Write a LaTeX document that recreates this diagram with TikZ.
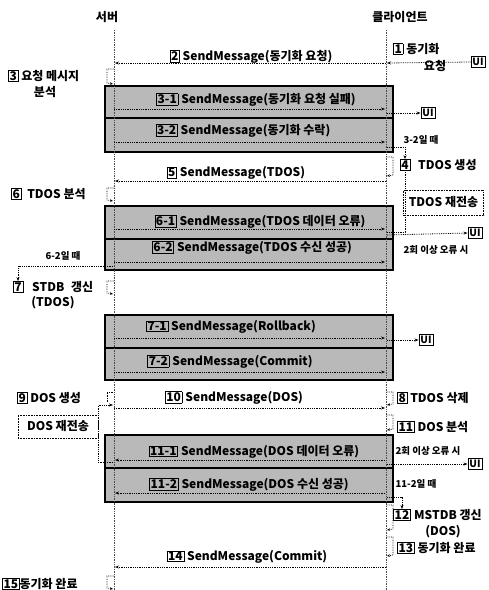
\documentclass[tikz,border=0pt]{standalone}
\usepackage{fontspec}
\setmainfont{Noto Sans CJK KR}
\usetikzlibrary{arrows.meta}
\newcommand\stepno[1]{{\setlength{\fboxsep}{0.8pt}\setlength{\fboxrule}{0.6pt}\fbox{#1}}\hspace{3pt}}
\tikzset{
 life/.style={densely dotted, line width=0.7pt, black!70},
 msg/.style={densely dotted, line width=0.8pt, -{Stealth[length=4pt,width=3pt]}},
 plain/.style={densely dotted, line width=0.8pt},
 lbl/.style={font=\fontsize{12}{14}\selectfont\bfseries, inner sep=1pt},
 sm/.style={font=\fontsize{9.5}{10}\selectfont\bfseries, inner sep=1pt},
 greybox/.style={fill=gray!55, draw=black, line width=1.6pt},
 act/.style={densely dotted, line width=0.7pt, -{Stealth[length=3pt,width=2.5pt]}},
 uibox/.style={draw, line width=0.8pt, font=\fontsize{10}{11}\selectfont\bfseries, inner sep=1.5pt},
 numbox/.style={draw, line width=0.6pt, inner sep=1.2pt, font=\fontsize{12}{14}\selectfont\bfseries},
 retrybox/.style={draw, densely dotted, line width=0.6pt, font=\fontsize{12}{14}\selectfont\bfseries, inner sep=0pt}
}
\begin{document}
\begin{tikzpicture}[x=1pt,y=-1pt]
\useasboundingbox (0,0) rectangle (489,590);
% titles and lifelines
\node[lbl] (srvT) at (107,17) {서버};
\node[lbl] (cliT) at (400,17) {클라이언트};
\coordinate (sTop) at (114,30); \coordinate (sBot) at (114,590);
\coordinate (cTop) at (386,30); \coordinate (cBot) at (386,590);
% grey boxes
\draw[greybox] (105,86) rectangle (393,152);
\draw[line width=1.6pt] (105,118) -- (393,118);
\draw[greybox] (105,206) rectangle (393,270);
\draw[line width=1.6pt] (105,239) -- (393,239);
\draw[greybox] (105,315) rectangle (393,380);
\draw[line width=1.6pt] (105,348) -- (393,348);
\draw[greybox] (105,435) rectangle (393,502);
\draw[line width=1.6pt] (105,468) -- (393,468);
\draw[life] (sTop) -- (sBot);
\draw[life] (cTop) -- (cBot);

% step 1
\node[uibox] (ui0) at (478,62) {UI};
\node[lbl, anchor=west] (t1) at (392,49) {\stepno{1}동기화};
\node[lbl] (t1b) at (435,66) {요청};
\coordinate (c1) at (387,63);
\draw[msg] (ui0.west) -- (c1);
% step 2
\coordinate (c2) at (386,63); \coordinate (s2) at (115,63);
\draw[msg] (c2) -- (s2);
\node[lbl] (t2) at (251,57) {\stepno{2}SendMessage(동기화 요청)};
% step 3
\node[lbl, anchor=west] (t3) at (7,76) {\stepno{3}요청 메시지};
\node[lbl] (t3b) at (45,92) {분석};
\draw[act] (114,69) -- (107,69) -- (107,83) -- (113,84);
% 3-1
\node[lbl] (t31) at (256,100) {\stepno{3-1}SendMessage(동기화 요청 실패)};
\coordinate (s31) at (114,109); \coordinate (c31) at (385,109);
\draw[msg] (s31) -- (c31);
\node[uibox] (ui1) at (428,113) {UI};
\coordinate (c31b) at (387,113);
\draw[msg] (c31b) -- (ui1.west);
% 3-2
\node[lbl] (t32) at (243,131) {\stepno{3-2}SendMessage(동기화 수락)};
\coordinate (s32) at (114,142); \coordinate (c32) at (385,142);
\draw[msg] (s32) -- (c32);
\node[sm] (w32) at (421,140) {3-2일 때};
\node[numbox] (n4) at (405,165) {4};
\node[lbl, anchor=west] (t4) at (417,165) {TDOS 생성};
\coordinate (c32b) at (387,147);
\draw[msg] (c32b) -- (n4.north |- c32b) -- (n4.north);
\draw[act] (386,157) -- (393,157) -- (393,175) -- (387,176);
% step 5
\coordinate (c5) at (386,181); \coordinate (s5) at (115,181);
\draw[msg] (c5) -- (s5);
\node[lbl] (t5) at (236,173) {\stepno{5}SendMessage(TDOS)};
% TDOS resend
\node[retrybox, minimum width=80pt, minimum height=25pt] (rT) at (443.5,202.5) {TDOS 재전송};
% step 6
\node[lbl, anchor=west] (t6) at (10,194) {\stepno{6}\hspace{3pt}TDOS 분석};
\draw[act] (114,188) -- (107,188) -- (107,200) -- (113,201);
% 6-1
\node[lbl] (t61) at (260,222) {\stepno{6-1}SendMessage(TDOS 데이터 오류)};
\coordinate (s61) at (114,229); \coordinate (c61) at (385,229);
\draw[msg] (s61) -- (c61);
\coordinate (c61b) at (387,232);
\draw[plain] (c61b) -- (n4.south |- c61b) -- (n4.south);
\node[uibox] (ui2) at (475,233) {UI};
\coordinate (c61c) at (387,235);
\draw[msg] (c61c) -- (ui2.west);
% 6-2
\node[lbl] (t62) at (252,248) {\stepno{6-2}SendMessage(TDOS 수신 성공)};
\coordinate (s62) at (114,262); \coordinate (c62) at (385,262);
\draw[msg] (s62) -- (c62);
\node[sm] (e61) at (436,250) {2회 이상 오류 시};
\node[sm] (w62) at (63,256) {6-2일 때};
\node[numbox] (n7) at (18,287) {7};
\coordinate (s62b) at (113,266);
\draw[msg] (s62b) -- (n7.north |- s62b) -- (n7.north);
\node[lbl, anchor=west] (t7) at (31,287) {STDB\hspace{4pt} 갱신};
\node[lbl] (t7b) at (53,303) {(TDOS)};
\draw[act] (114,281) -- (107,281) -- (107,293) -- (113,294);
% 7-1
\node[lbl] (t71) at (231,327) {\stepno{7-1}SendMessage(Rollback)};
\coordinate (s71) at (114,338); \coordinate (c71) at (385,338);
\draw[msg] (s71) -- (c71);
\node[uibox] (ui3) at (426,340) {UI};
\coordinate (c71b) at (387,340);
\draw[msg] (c71b) -- (ui3.west);
% 7-2
\node[lbl] (t72) at (230,362) {\stepno{7-2}SendMessage(Commit)};
\coordinate (s72) at (114,372); \coordinate (c72) at (385,372);
\draw[msg] (s72) -- (c72);
% step 9
\node[lbl, anchor=west] (t9) at (16,398) {\stepno{9}DOS 생성};
\draw[densely dotted, line width=0.7pt] (113,392) -- (107,392) -- (107,402);
% step 8
\node[lbl, anchor=west] (t8) at (396,398) {\stepno{8}TDOS 삭제};
\draw[act] (386,392) -- (393,392) -- (393,404) -- (387,405);
% step 10
\coordinate (s10) at (114,408); \coordinate (c10) at (385,408);
\draw[msg] (s10) -- (c10);
\node[lbl] (t10) at (234,398) {\stepno{10}SendMessage(DOS)};
% DOS resend
\node[retrybox, minimum width=80pt, minimum height=23pt] (rD) at (58,426.5) {DOS 재전송};
% step 11
\node[lbl, anchor=west] (t11) at (396,427) {\stepno{11}DOS 분석};
\draw[act] (386,415) -- (393,415) -- (393,429) -- (387,430);
% 11-1
\node[lbl] (t111) at (254,452) {\stepno{11-1}SendMessage(DOS 데이터 오류)};
\coordinate (c111) at (385,460); \coordinate (s111) at (115,460);
\draw[msg] (c111) -- (s111);
\coordinate (s111b) at (113,462); \coordinate (s9) at (113,405);
\draw[msg] (s111b) -- (rD.east |- s111b) -- (rD.east |- s9) -- (s9);
\node[sm] (e111) at (428,451) {2회 이상 오류 시};
\node[uibox] (ui4) at (475,464) {UI};
\coordinate (c111b) at (387,464);
\draw[msg] (c111b) -- (ui4.west);
% 11-2
\node[lbl] (t112) at (249,485) {\stepno{11-2}SendMessage(DOS 수신 성공)};
\coordinate (c112) at (385,493); \coordinate (s112) at (115,493);
\draw[msg] (c112) -- (s112);
\node[sm] (w112) at (416,484) {11-2일 때};
\node[numbox] (n12) at (402,515) {12};
\coordinate (c112b) at (387,497);
\draw[msg] (c112b) -- (n12.north |- c112b) -- (n12.north);
\node[lbl, anchor=west] (t12) at (413,515) {MSTDB 갱신};
\node[lbl] (t12b) at (443,532) {(DOS)};
\draw[act] (386,505) -- (393,505) -- (393,529) -- (387,530);
% step 13
\node[lbl, anchor=west] (t13) at (396,548) {\stepno{13}동기화 완료};
\draw[act] (386,537) -- (393,537) -- (393,555) -- (387,556);
% step 14
\coordinate (c14) at (386,567); \coordinate (s14) at (115,567);
\draw[msg] (c14) -- (s14);
\node[lbl] (t14) at (247,557) {\stepno{14}SendMessage(Commit)};
% step 15
\node[lbl, anchor=west] (t15) at (1,584) {{\setlength{\fboxsep}{0.8pt}\setlength{\fboxrule}{0.6pt}\fbox{15}}동기화 완료};
\draw[act] (114,576) -- (107,576) -- (107,588) -- (113,589);
\end{tikzpicture}
\end{document}
